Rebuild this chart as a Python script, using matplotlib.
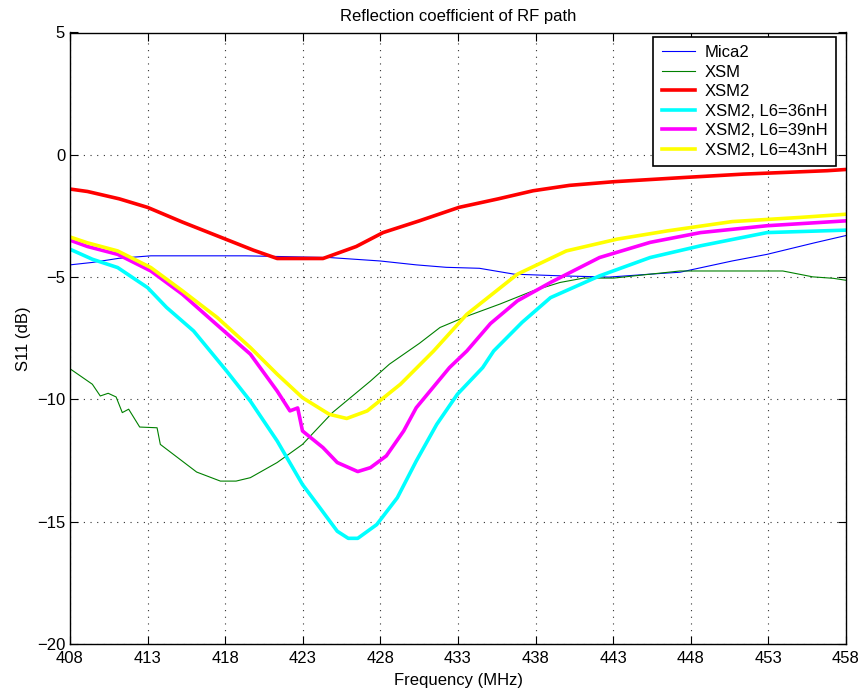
import numpy as np
import matplotlib
matplotlib.use("Agg")
import matplotlib.pyplot as plt

plt.rcParams["font.family"] = ["Liberation Sans", "DejaVu Sans"]

# ---- data (frequency in MHz, S11 in dB) ----
mica2_f = [408, 409.44, 411.17, 413.21, 419.31, 424.71, 427.97, 430.31, 432.24, 434.38, 436.62, 439.67, 442.73, 445.37, 447.31,
           450.67, 452.91, 455.96, 458]
mica2_s = [-4.5, -4.4, -4.23, -4.13, -4.13, -4.2, -4.34, -4.5, -4.6, -4.64, -4.88, -4.95, -5.0, -4.88, -4.8,
           -4.34, -4.07, -3.6, -3.3]

xsm_f = [408, 408.12, 409.44, 409.95, 410.46, 410.97, 411.37, 411.78, 412.49, 413.61, 413.82, 416.16, 417.69, 418.70, 419.62,
         421.35, 422.98, 424.91, 427.36, 428.58, 430.51, 431.84, 433.57, 435.71, 437.84, 439.57, 441.10, 443.04, 445.38,
         447.31, 453.93, 455.86, 457.19, 458]
xsm_s = [-8.75, -8.8, -9.38, -9.86, -9.75, -9.9, -10.54, -10.4, -11.13, -11.16, -11.84, -12.97, -13.34, -13.34, -13.2,
         -12.58, -11.84, -10.54, -9.25, -8.56, -7.71, -7.06, -6.6, -6.1, -5.56, -5.22, -5.04, -5.04, -4.88,
         -4.75, -4.75, -4.99, -5.05, -5.13]

xsm2_f = [408, 409.13, 411.17, 413.00, 415.24, 417.99, 419.82, 421.35, 424.30, 426.44, 428.17, 430.51, 433.06, 435.60,
          437.84, 440.18, 443.04, 447.51, 451.38, 456.78, 458]
xsm2_s = [-1.4, -1.5, -1.8, -2.15, -2.75, -3.44, -3.9, -4.24, -4.24, -3.75, -3.18, -2.7, -2.15, -1.8,
          -1.47, -1.25, -1.1, -0.93, -0.79, -0.65, -0.6]

l36_f = [408, 409.44, 411.07, 413.00, 414.22, 415.96, 418.09, 419.62, 421.35, 422.98, 424.10, 425.22, 425.93, 426.54,
         427.76, 429.09, 430.31, 431.63, 432.96, 434.59, 435.30, 437.13, 438.96, 442.12, 445.38, 448.63, 452.91, 458]
l36_s = [-3.86, -4.27, -4.61, -5.43, -6.24, -7.2, -8.84, -10.07, -11.7, -13.48, -14.43, -15.39, -15.68, -15.68,
         -15.12, -14.02, -12.52, -11.02, -9.79, -8.7, -8.02, -6.85, -5.84, -4.95, -4.2, -3.72, -3.18, -3.08]

l39_f = [408, 409.13, 411.07, 413.21, 415.24, 417.18, 419.62, 421.35, 422.17, 422.67, 422.98, 424.30, 425.22, 426.54,
         427.36, 428.38, 429.50, 430.31, 432.45, 433.57, 435.09, 436.83, 438.96, 442.12, 445.38, 448.63, 452.91, 458]
l39_s = [-3.49, -3.75, -4.07, -4.75, -5.7, -6.79, -8.15, -9.66, -10.47, -10.35, -11.29, -11.97, -12.58, -12.95,
         -12.79, -12.31, -11.29, -10.34, -8.7, -8.02, -6.9, -5.97, -5.22, -4.2, -3.58, -3.18, -2.9, -2.7]

l43_f = [408, 409.13, 411.07, 413.21, 415.24, 417.48, 419.62, 421.35, 422.98, 424.71, 425.83, 427.15, 429.29, 431.43,
         433.57, 436.83, 439.98, 443.24, 446.50, 450.67, 455.05, 458]
l43_s = [-3.36, -3.6, -3.93, -4.61, -5.56, -6.65, -7.88, -8.97, -9.93, -10.61, -10.78, -10.47, -9.38, -8.02,
         -6.52, -4.88, -3.93, -3.45, -3.11, -2.73, -2.56, -2.43]

labels = ["Mica2", "XSM", "XSM2", "XSM2, L6=36nH", "XSM2, L6=39nH", "XSM2, L6=43nH"]

# ---- plot ----
fig = plt.figure(figsize=(8.64, 6.94), dpi=100)
ax = fig.add_axes([70 / 864, 1 - 644 / 694, 776 / 864, 611.5 / 694])

ax.plot(mica2_f, mica2_s, color="#0000ff", linewidth=0.8, label=labels[0])
ax.plot(xsm_f, xsm_s, color="#008000", linewidth=0.8, label=labels[1])
ax.plot(xsm2_f, xsm2_s, color="#ff0000", linewidth=2.6, label=labels[2])
ax.plot(l36_f, l36_s, color="#00ffff", linewidth=2.6, label=labels[3])
ax.plot(l39_f, l39_s, color="#ff00ff", linewidth=2.6, label=labels[4])
ax.plot(l43_f, l43_s, color="#ffff00", linewidth=2.6, label=labels[5])

ax.set_xlim(408, 458)
ax.set_ylim(-20, 5)
ax.set_xticks(np.arange(408, 459, 5))
ax.set_yticks(np.arange(-20, 6, 5))
ax.set_yticklabels(["\u221220", "\u221215", "\u221210", "\u22125", "0", "5"])
ax.tick_params(direction="in", top=True, right=True, labelsize=12, length=6, width=0.8)
ax.tick_params(axis="x", pad=5)
ax.tick_params(axis="y", pad=3.5)
ax.grid(True, color="#333333", linestyle=(0, (1, 5)), linewidth=0.8)
for sp in ax.spines.values():
    sp.set_linewidth(1.0)

ax.set_xlabel("Frequency (MHz)", fontsize=12, labelpad=5)
ax.set_ylabel("S11 (dB)", fontsize=12, labelpad=4)
ax.set_title("Reflection coefficient of RF path", fontsize=12, pad=8)

leg = ax.legend(loc="upper right", bbox_to_anchor=(836 / 864, 1 - 37 / 694), bbox_transform=fig.transFigure,
                fontsize=12, fancybox=False, framealpha=1, edgecolor="black", borderaxespad=0,
                handlelength=2.0, handletextpad=0.6, labelspacing=0.27, borderpad=0.5)
leg.get_frame().set_linewidth(1.2)

fig.savefig("out.png", dpi=100)
